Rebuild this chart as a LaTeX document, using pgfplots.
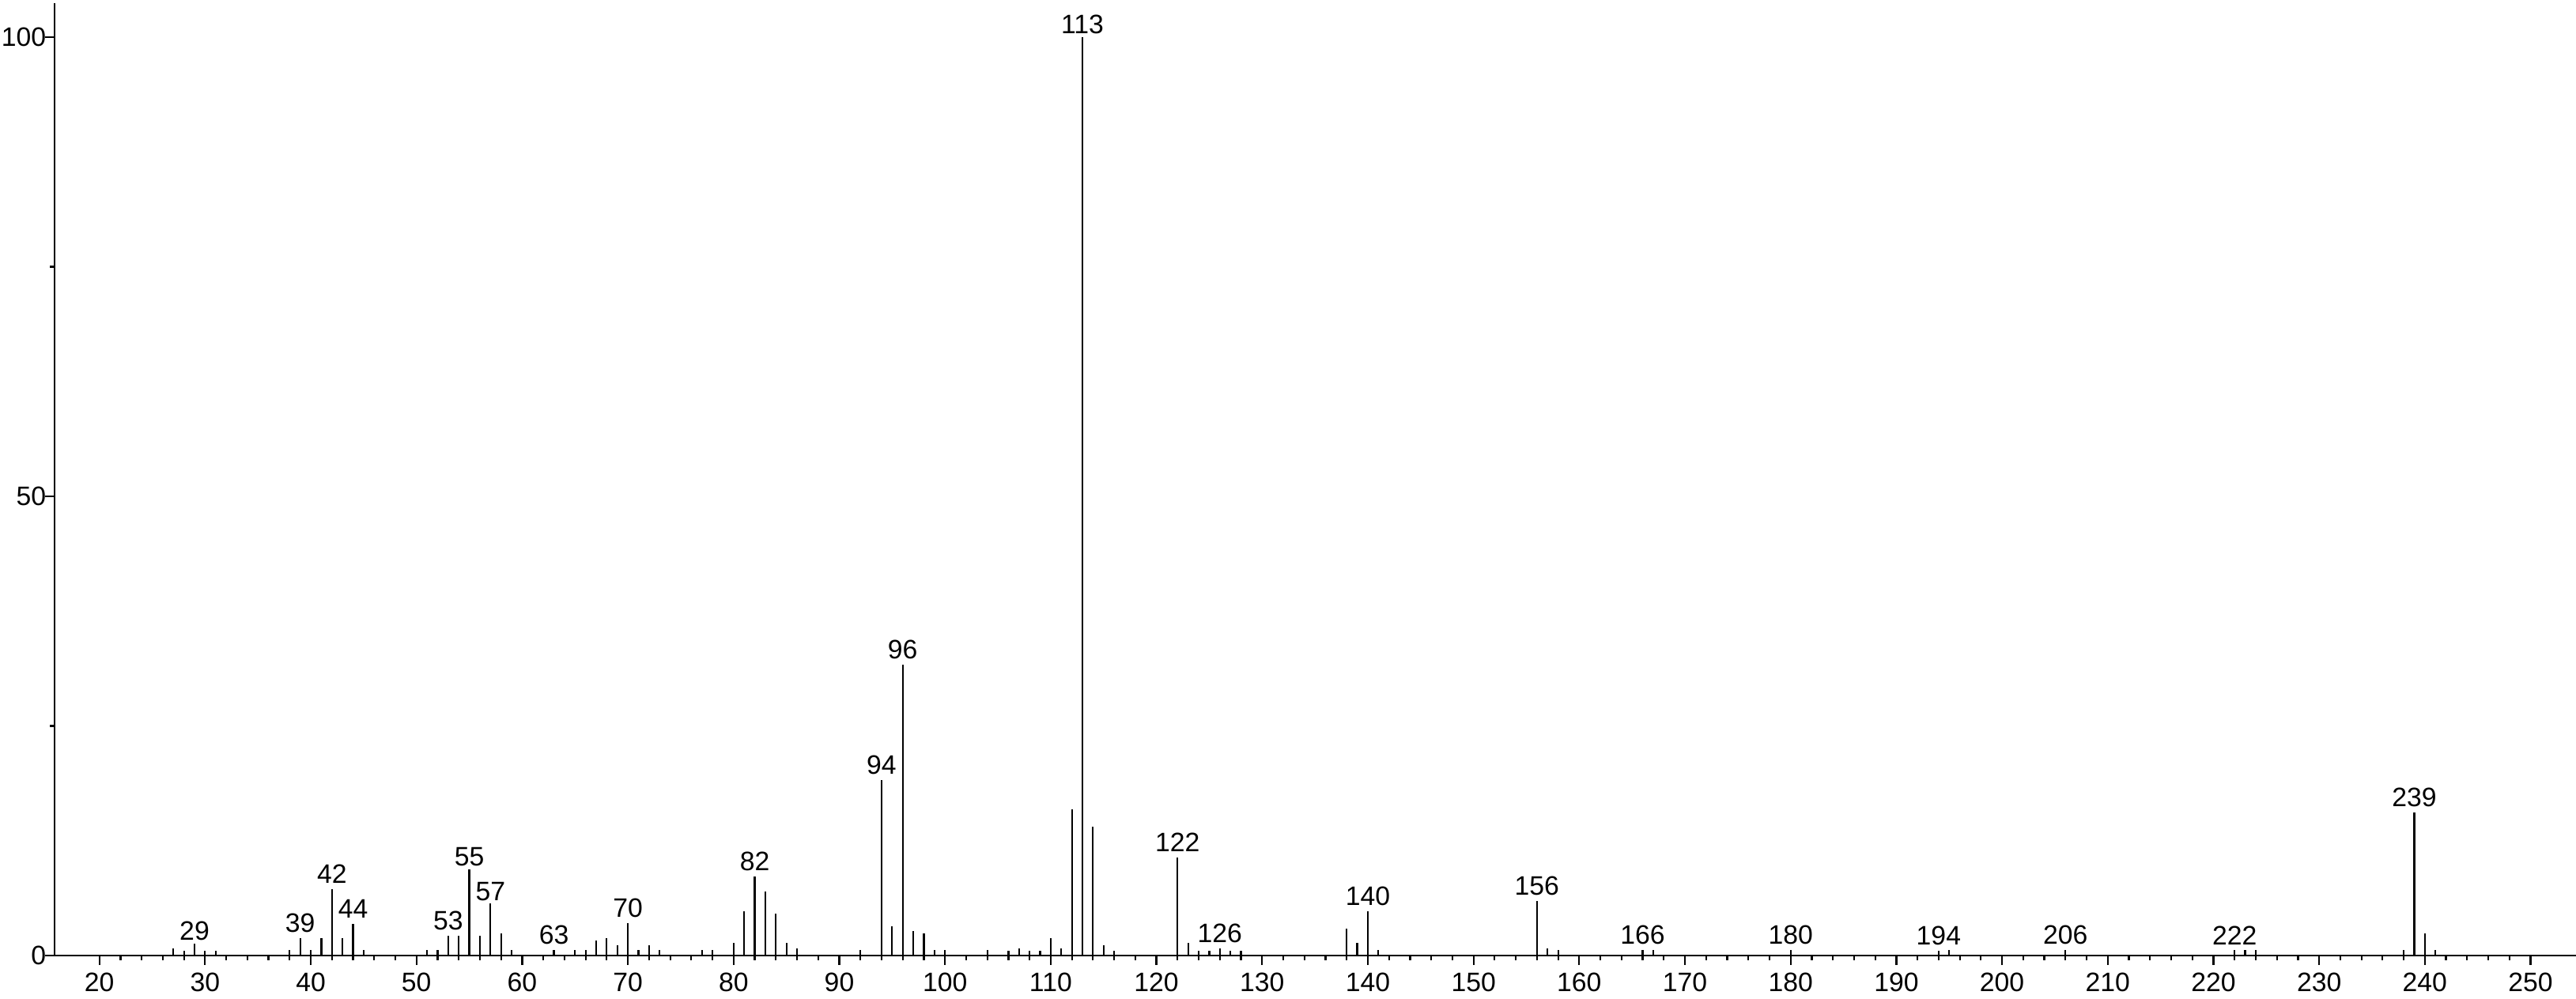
\documentclass[border=0pt]{standalone}
\usepackage{fontspec}
\setmainfont{Liberation Sans}
\usepackage{pgfplots}
\usepackage{pgfplotstable}
\pgfplotsset{compat=1.18}

\pgfplotstableread{
mz inten
27 0.75
28 0.5
29 1.3
30 0.5
31 0.5
38 0.57
39 1.87
40 0.57
41 1.87
42 7.26
43 1.87
44 3.45
45 0.57
51 0.57
52 0.57
53 2.15
54 2.15
55 9.4
56 2.15
57 5.66
58 2.44
59 0.57
63 0.57
65 0.57
66 0.57
67 1.64
68 1.87
69 1.1
70 3.5
71 0.57
72 1.1
73 0.57
77 0.57
78 0.57
80 1.35
81 4.85
82 8.6
83 7.0
84 4.56
85 1.35
86 0.8
92 0.57
94 19.1
95 3.2
96 31.7
97 2.67
98 2.4
99 0.57
100 0.57
104 0.57
106 0.52
107 0.8
108 0.52
109 0.52
110 1.87
111 0.8
112 15.9
113 100
114 14.0
115 1.09
116 0.52
122 10.7
123 1.35
124 0.52
125 0.52
126 0.8
127 0.52
128 0.52
138 2.93
139 1.35
140 4.82
141 0.57
156 5.9
157 0.8
158 0.57
166 0.57
167 0.57
180 0.57
194 0.5
195 0.57
206 0.57
222 0.57
223 0.57
224 0.57
238 0.57
239 15.56
240 2.38
241 0.57
}\peaks

\pgfplotstableread{
mz inten lab
39 1.87 39
42 7.26 42
44 3.45 44
53 2.15 53
63 0.57 63
70 3.5 70
82 8.6 82
94 19.1 94
96 31.7 96
122 10.7 122
126 0.8 126
140 4.82 140
156 5.9 156
166 0.57 166
180 0.57 180
194 0.5 194
206 0.57 206
222 0.57 222
239 15.56 239
}\labsA

\pgfplotstableread{
mz inten lab
29 1.3 29
55 9.4 55
57 5.66 57
113 100 113
}\labsB

\begin{document}
\begin{tikzpicture}
\begin{axis}[
  scale only axis, width=318.9mm, height=120.5mm,
  xmin=15.76, xmax=254.3, ymin=0, ymax=103.7,
  axis lines*=left,
  axis line style={line width=0.25mm, black},
  clip=false,
  xtick={20,30,...,250}, minor x tick num=4,
  ytick={0,50,100}, minor ytick={25,75},
  tick align=outside,
  major tick length=1.17mm, minor tick length=0.57mm,
  tick style={black, line width=0.22mm},
  /pgf/number format/assume math mode=true,
  scaled ticks=false,
  ticklabel style={font=\fontsize{9.6pt}{11pt}\selectfont, inner sep=0pt},
  xticklabel style={anchor=north, yshift=-1.0mm},
  yticklabel style={anchor=east, xshift=0.15mm},
]
\addplot[ycomb, black, line width=0.22mm, mark=none] table[x=mz, y=inten] {\peaks};
\addplot[draw=none, mark=none, nodes near coords, point meta=explicit symbolic,
  nodes near coords style={anchor=south, inner sep=0pt, yshift=0.65mm, font=\fontsize{9.6pt}{11pt}\selectfont}]
  table[x=mz, y=inten, meta=lab] {\labsA};
\addplot[draw=none, mark=none, nodes near coords, point meta=explicit symbolic,
  nodes near coords style={anchor=south, inner sep=0pt, yshift=0.3mm, font=\fontsize{9.6pt}{11pt}\selectfont}]
  table[x=mz, y=inten, meta=lab] {\labsB};
\end{axis}
\pgfresetboundingbox
\useasboundingbox (-6.9mm,-5.5mm) rectangle (318.9mm,120.9mm);
\end{tikzpicture}
\end{document}
